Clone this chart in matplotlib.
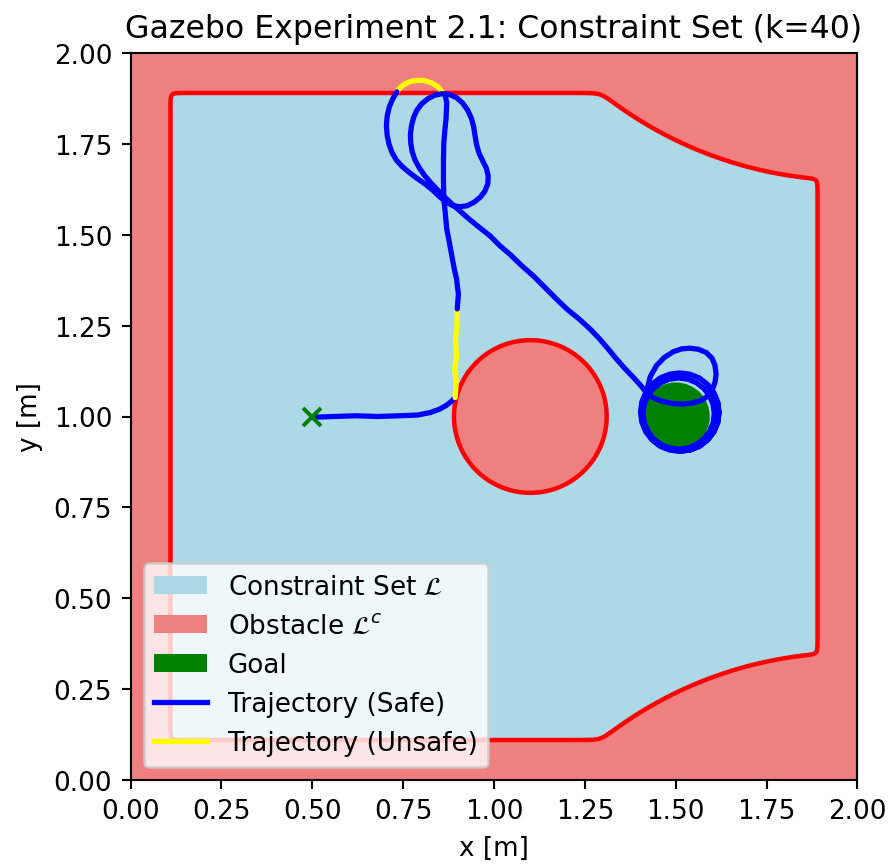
import numpy as np
import matplotlib
matplotlib.use("Agg")
import matplotlib.pyplot as plt
from matplotlib.patches import Patch, Circle
from matplotlib.lines import Line2D

K_TITLE = 40
# sharpness of the log-sum-exp blend between the individual walls (1/m)
BLEND = 150

# workspace box (signed-distance walls)
BOX_LO, BOX_HI = 0.11, 1.89
# circular obstacle in the middle
OBS_CENTER = (1.1, 1.0)
OBS_RADIUS = 0.21
# large cut-outs at the right corners
CORNER_CENTERS = [(1.98, 2.75), (1.98, -0.75)]
CORNER_RADIUS = 1.1

GOAL_CENTER = (1.5, 1.0)
GOAL_RADIUS = 0.09
START = (0.5, 1.0)

# robot trajectory, piece by piece (x, y); unsafe pieces are flagged below
approach_x = [0.500, 0.560, 0.620, 0.680, 0.740, 0.790, 0.825, 0.850, 0.868, 0.882, 0.893]
approach_y = [0.998, 1.000, 1.002, 1.000, 1.002, 1.004, 1.011, 1.020, 1.030, 1.041, 1.052]

edge_x = [0.893, 0.896, 0.892, 0.897, 0.894, 0.898, 0.899]
edge_y = [1.052, 1.090, 1.130, 1.170, 1.210, 1.250, 1.296]

climb_x = [0.899, 0.902, 0.897, 0.890, 0.884, 0.877, 0.870, 0.866, 0.862, 0.861,
           0.861, 0.862, 0.865, 0.868, 0.870, 0.866, 0.858]
climb_y = [1.296, 1.337, 1.378, 1.410, 1.442, 1.480, 1.516, 1.560, 1.598, 1.650,
           1.708, 1.754, 1.790, 1.818, 1.864, 1.882, 1.893]

overshoot_x = [0.858, 0.845, 0.828, 0.808, 0.790, 0.771, 0.754, 0.741, 0.733]
overshoot_y = [1.893, 1.908, 1.918, 1.924, 1.925, 1.922, 1.914, 1.904, 1.893]

loops_x = [0.733, 0.722, 0.712, 0.706, 0.704, 0.706, 0.711, 0.719, 0.731, 0.747,
           0.766, 0.787, 0.810, 0.832, 0.851, 0.868, 0.887, 0.907, 0.927, 0.946,
           0.962, 0.975, 0.983, 0.984, 0.979, 0.969, 0.959, 0.952, 0.948, 0.944,
           0.938, 0.928, 0.914, 0.897, 0.877, 0.857, 0.837, 0.818, 0.801, 0.788,
           0.779, 0.773, 0.770, 0.771, 0.775, 0.783, 0.795, 0.810, 0.827, 0.846,
           0.866, 0.887, 0.910, 0.934, 0.960, 0.989]
loops_y = [1.893, 1.875, 1.852, 1.826, 1.800, 1.774, 1.750, 1.727, 1.706, 1.688,
           1.672, 1.656, 1.640, 1.622, 1.604, 1.590, 1.580, 1.577, 1.580, 1.590,
           1.603, 1.620, 1.640, 1.662, 1.683, 1.703, 1.724, 1.748, 1.772, 1.797,
           1.820, 1.842, 1.862, 1.877, 1.886, 1.888, 1.884, 1.874, 1.860, 1.843,
           1.823, 1.800, 1.776, 1.752, 1.728, 1.705, 1.683, 1.662, 1.642, 1.622,
           1.602, 1.582, 1.562, 1.541, 1.520, 1.497]

diag_x = [0.989, 1.016, 1.045, 1.075, 1.108, 1.140, 1.170, 1.200, 1.232, 1.264,
          1.290, 1.314, 1.337, 1.360, 1.383, 1.403, 1.419]
diag_y = [1.497, 1.470, 1.445, 1.416, 1.387, 1.355, 1.325, 1.296, 1.270, 1.241,
          1.214, 1.186, 1.158, 1.132, 1.108, 1.086, 1.066]

# first swing over the goal, then the orbits around it
swing_x = [1.419, 1.430, 1.447, 1.468, 1.493, 1.516, 1.538, 1.562, 1.584, 1.600,
           1.608, 1.611, 1.608, 1.600, 1.588, 1.570, 1.545, 1.518, 1.490, 1.462,
           1.437, 1.4175]
swing_y = [1.066, 1.110, 1.140, 1.162, 1.178, 1.186, 1.188, 1.185, 1.176, 1.160,
           1.140, 1.117, 1.094, 1.072, 1.056, 1.044, 1.037, 1.034, 1.036, 1.042,
           1.052, 1.066]

orbit_x = [1.4175, 1.4067, 1.403, 1.4067, 1.4175, 1.4346, 1.457, 1.483, 1.511, 1.539,
           1.565, 1.5874, 1.6045, 1.6153, 1.619, 1.6153, 1.6045, 1.5874, 1.565, 1.539,
           1.511, 1.483, 1.457, 1.4346,
           1.4231, 1.4133, 1.410, 1.4133, 1.4231, 1.4387, 1.459, 1.4826, 1.508, 1.5334,
           1.557, 1.5773, 1.5929, 1.6027, 1.606, 1.6027, 1.5929, 1.5773, 1.557, 1.5334,
           1.508, 1.4826, 1.459, 1.4387, 1.4231,
           1.4126, 1.409, 1.4126, 1.4231, 1.4398, 1.4615, 1.4868, 1.514, 1.5412, 1.5665,
           1.5882, 1.6049, 1.6154, 1.619, 1.6154, 1.6049]
orbit_y = [1.066, 1.040, 1.012, 0.984, 0.958, 0.9356, 0.918, 0.9077, 0.904, 0.9077,
           0.918, 0.9356, 0.958, 0.984, 1.012, 1.040, 1.066, 1.0884, 1.106, 1.1163,
           1.120, 1.1163, 1.106, 1.0884,
           1.057, 1.0334, 1.008, 0.9826, 0.959, 0.9387, 0.9231, 0.9133, 0.910, 0.9133,
           0.9231, 0.9387, 0.959, 0.9826, 1.008, 1.0334, 1.057, 1.0773, 1.0929, 1.1027,
           1.106, 1.1027, 1.0929, 1.0773, 1.057,
           1.0372, 1.010, 0.9828, 0.9575, 0.9358, 0.9191, 0.9086, 0.905, 0.9086, 0.9191,
           0.9358, 0.9575, 0.9828, 1.010, 1.0372, 1.0625]

pieces = [
    (approach_x, approach_y, False),
    (edge_x, edge_y, True),
    (climb_x, climb_y, False),
    (overshoot_x, overshoot_y, True),
    (loops_x, loops_y, False),
    (diag_x, diag_y, False),
    (swing_x, swing_y, False),
    (orbit_x, orbit_y, False),
]


def smooth_min_h(X, Y):
    """log-sum-exp smooth minimum of the individual constraint functions"""
    hs = [X - BOX_LO, BOX_HI - X, Y - BOX_LO, BOX_HI - Y,
          np.hypot(X - OBS_CENTER[0], Y - OBS_CENTER[1]) - OBS_RADIUS]
    for cx, cy in CORNER_CENTERS:
        hs.append(np.hypot(X - cx, Y - cy) - CORNER_RADIUS)
    hs = np.stack(hs)
    m = hs.min(axis=0)
    return m - np.log(np.sum(np.exp(-BLEND * (hs - m)), axis=0)) / BLEND


xs = np.linspace(0, 2, 1000)
ys = np.linspace(0, 2, 1000)
X, Y = np.meshgrid(xs, ys)
H = smooth_min_h(X, Y)

dpi = 189
fig = plt.figure(figsize=(893 / dpi, 867 / dpi), dpi=dpi)
ax = fig.add_axes([130 / 893, 86 / 867, 728 / 893, 727 / 867])

ax.contourf(X, Y, H, levels=[-10, 0, 10], colors=["lightcoral", "lightblue"])
ax.contour(X, Y, H, levels=[0], colors="red", linewidths=1.7)

ax.add_patch(Circle(GOAL_CENTER, GOAL_RADIUS, color="green", zorder=3))

for px, py, unsafe in pieces:
    ax.plot(px, py, color="yellow" if unsafe else "blue", lw=2,
            solid_capstyle="round", solid_joinstyle="round", zorder=4)

ax.plot(*START, marker="x", color="green", ms=7, mew=1.5, zorder=5)

ax.set_xlim(0, 2)
ax.set_ylim(0, 2)
ax.set_aspect("equal")
ticks = np.arange(0, 2.01, 0.25)
ax.set_xticks(ticks)
ax.set_yticks(ticks)
ax.set_xlabel("x [m]")
ax.set_ylabel("y [m]")
ax.set_title(f"Gazebo Experiment 2.1: Constraint Set (k={K_TITLE})")

handles = [
    Patch(facecolor="lightblue", label=r"Constraint Set $\mathcal{L}$"),
    Patch(facecolor="lightcoral", label=r"Obstacle $\mathcal{L}^c$"),
    Patch(facecolor="green", label="Goal"),
    Line2D([], [], color="blue", lw=2, label="Trajectory (Safe)"),
    Line2D([], [], color="yellow", lw=2, label="Trajectory (Unsafe)"),
]
ax.legend(handles=handles, loc="lower left")

fig.savefig("out.png", dpi=dpi)
